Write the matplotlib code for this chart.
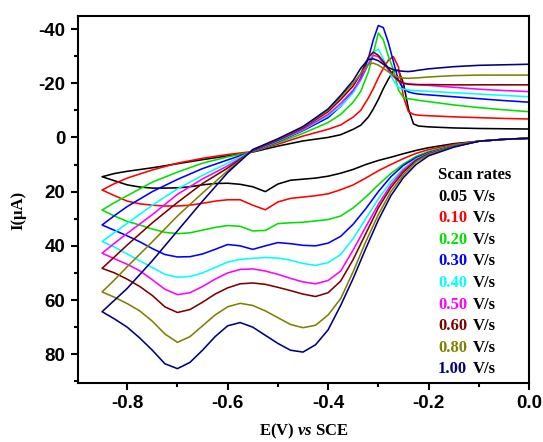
import numpy as np
import matplotlib
matplotlib.use('Agg')
import matplotlib.pyplot as plt
from matplotlib.ticker import MultipleLocator

plt.rcParams['axes.unicode_minus'] = False
plt.rcParams['mathtext.fontset'] = 'custom'
plt.rcParams['mathtext.it'] = 'Liberation Serif:italic:bold'
plt.rcParams['mathtext.rm'] = 'Liberation Serif:bold'

# potential grids (V vs SCE): reverse sweep 0 -> -0.85, then forward sweep back to 0
E_dn = [0.0, -0.05, -0.10, -0.15, -0.20, -0.225, -0.25, -0.275, -0.30, -0.325,
        -0.35, -0.375, -0.40, -0.425, -0.45, -0.475, -0.50, -0.525, -0.55, -0.575,
        -0.60, -0.625, -0.65, -0.675, -0.70, -0.725, -0.75, -0.775, -0.80, -0.825, -0.85]
E_up = [-0.85, -0.825, -0.80, -0.75, -0.70, -0.65, -0.60, -0.55, -0.50, -0.45,
        -0.40, -0.375, -0.35, -0.335, -0.32, -0.31, -0.30, -0.29, -0.28, -0.27,
        -0.26, -0.25, -0.24, -0.23, -0.22, -0.20, -0.15, -0.10, -0.05, 0.0]

rates = ['0.05', '0.10', '0.20', '0.30', '0.40', '0.50', '0.60', '0.80', '1.00']
colors = ['#000000', '#ff0000', '#00e000', '#0000ff', '#00ffff',
          '#ff00ff', '#800000', '#808000', '#000080']

# current (uA) on the lower branch, one list per scan rate
I_dn_005 = [0.3, 0.7, 1.4, 2.3, 3.8, 4.8, 6.0, 7.3, 8.5, 10.0, 11.8, 13.2, 14.3, 15.0, 15.4, 15.8,
            17.2, 20.0, 18.2, 17.3, 16.9, 17.0, 17.5, 18.2, 18.6, 18.7, 18.7, 18.3, 17.5, 16.0, 14.5]
I_dn_010 = [0.3, 0.7, 1.4, 2.6, 4.5, 5.9, 7.8, 10.0, 12.3, 15.0, 17.5, 19.3, 20.8, 21.5, 22.0, 22.5,
            23.8, 26.7, 25.0, 23.0, 23.0, 23.5, 24.3, 25.0, 25.3, 25.3, 25.0, 24.5, 23.5, 21.5, 19.4]
I_dn_020 = [0.3, 0.7, 1.4, 2.9, 5.2, 7.0, 9.8, 13.3, 17.5, 22.0, 26.0, 29.0, 30.3, 30.8, 31.3, 31.5,
            31.8, 34.3, 34.5, 32.8, 32.5, 33.2, 34.2, 35.2, 35.5, 35.0, 33.8, 32.3, 31.0, 29.0, 26.8]
I_dn_030 = [0.3, 0.7, 1.4, 3.1, 5.6, 7.5, 10.3, 14.5, 20.0, 26.3, 32.0, 36.5, 39.0, 40.0, 39.8, 39.2,
            38.8, 40.0, 41.3, 40.0, 39.5, 41.3, 43.0, 44.0, 44.1, 43.2, 41.0, 38.5, 36.3, 34.3, 32.3]
I_dn_040 = [0.3, 0.7, 1.4, 3.2, 5.9, 8.0, 11.5, 16.3, 22.7, 30.0, 37.3, 43.2, 46.2, 47.2, 46.5, 45.3,
            44.5, 44.3, 44.6, 45.0, 46.0, 48.0, 50.0, 51.3, 51.6, 50.5, 48.0, 45.5, 43.0, 40.5, 38.4]
I_dn_050 = [0.3, 0.7, 1.4, 3.3, 6.0, 8.3, 12.0, 17.5, 24.7, 33.0, 41.5, 49.3, 52.8, 54.0, 53.3, 52.0,
            50.5, 49.3, 48.5, 48.7, 50.0, 52.3, 55.0, 57.3, 58.0, 56.0, 52.5, 49.2, 46.8, 44.8, 42.7]
I_dn_060 = [0.3, 0.7, 1.4, 3.3, 6.1, 8.5, 12.8, 18.5, 26.0, 35.5, 45.0, 53.0, 57.3, 58.7, 57.8, 56.5,
            55.3, 54.2, 53.7, 54.0, 55.5, 57.8, 60.8, 63.5, 64.6, 62.5, 58.3, 55.0, 52.3, 50.0, 48.3]
I_dn_080 = [0.3, 0.7, 1.4, 3.4, 6.3, 9.0, 13.8, 20.0, 28.5, 38.5, 49.5, 59.5, 65.5, 69.3, 70.2, 69.0,
            66.5, 64.0, 62.0, 61.2, 62.5, 65.5, 69.5, 73.5, 75.6, 72.5, 67.8, 64.0, 61.3, 59.0, 57.0]
I_dn_100 = [0.3, 0.7, 1.4, 3.6, 6.8, 10.0, 14.8, 21.5, 30.5, 41.0, 52.0, 62.0, 71.0, 76.5, 79.2, 78.5,
            76.0, 73.0, 70.0, 68.3, 69.5, 73.5, 78.5, 83.0, 85.3, 83.5, 78.5, 74.0, 70.0, 67.0, 64.3]

# current (uA) on the upper branch
I_up_005 = [14.5, 13.3, 12.5, 11.2, 9.7, 8.2, 6.8, 5.4, 3.2, 1.3, 0.0, -1.0, -3.0, -4.5, -7.5,
            -10.5, -14.0, -18.0, -21.5, -24.5, -24.8, -20.0, -10.5, -5.0, -4.2, -3.9, -3.5, -3.3, -3.2, -3.1]
I_up_010 = [19.4, 17.0, 15.0, 12.0, 9.5, 7.7, 6.3, 5.2, 2.5, -0.5, -3.0, -4.6, -7.5, -10.0, -14.5,
            -18.0, -22.0, -25.5, -28.5, -29.8, -26.0, -15.0, -9.5, -8.5, -8.2, -8.0, -7.6, -7.3, -7.0, -6.8]
I_up_020 = [26.8, 24.0, 21.5, 16.5, 12.8, 9.5, 7.2, 5.3, 2.0, -1.5, -5.5, -8.5, -13.0, -17.0, -24.0,
            -31.0, -38.5, -36.0, -30.0, -25.0, -17.5, -14.7, -14.3, -14.0, -13.7, -13.2, -12.0, -11.0, -10.2, -9.5]
I_up_030 = [32.3, 28.8, 25.5, 20.0, 15.5, 11.5, 8.3, 5.2, 1.6, -2.5, -7.3, -11.5, -17.0, -22.0, -29.0,
            -36.0, -41.3, -40.5, -35.0, -28.0, -21.0, -18.0, -16.8, -16.3, -16.0, -15.7, -15.0, -14.3, -13.6, -13.0]
I_up_040 = [38.4, 35.0, 31.7, 25.0, 19.0, 14.0, 9.5, 5.0, 1.4, -2.8, -8.0, -11.5, -16.5, -21.0, -27.0,
            -31.5, -32.5, -29.0, -25.0, -21.0, -18.5, -17.8, -17.5, -17.3, -17.2, -17.0, -16.5, -16.0, -15.5, -15.0]
I_up_050 = [42.7, 39.0, 35.4, 28.5, 21.0, 15.3, 10.5, 5.0, 1.2, -3.0, -8.5, -12.5, -17.5, -21.5, -27.0,
            -30.3, -29.8, -27.5, -25.0, -22.5, -20.8, -20.0, -19.8, -19.6, -19.4, -19.2, -18.5, -17.8, -17.3, -16.9]
I_up_060 = [48.3, 44.0, 39.7, 31.5, 24.0, 17.0, 11.3, 4.8, 1.0, -3.5, -9.5, -14.0, -19.0, -23.5, -29.5,
            -31.5, -30.3, -28.0, -25.5, -23.0, -21.0, -20.0, -19.6, -19.5, -19.5, -19.5, -19.4, -19.4, -19.4, -19.4]
I_up_080 = [57.0, 52.5, 47.7, 38.5, 29.0, 20.5, 12.3, 4.5, 0.7, -3.8, -10.0, -15.0, -20.0, -23.5, -27.0,
            -27.4, -26.7, -25.5, -24.2, -23.0, -22.2, -21.9, -21.8, -21.9, -22.0, -22.3, -22.8, -23.0, -23.0, -23.0]
I_up_100 = [64.3, 60.0, 55.7, 45.5, 34.5, 23.5, 13.0, 4.5, 0.5, -4.0, -10.5, -15.5, -21.0, -25.5, -28.8,
            -29.0, -28.3, -27.0, -25.8, -25.0, -24.6, -24.4, -24.3, -24.5, -24.8, -25.3, -26.1, -26.6, -26.8, -27.0]

lower = [I_dn_005, I_dn_010, I_dn_020, I_dn_030, I_dn_040, I_dn_050, I_dn_060, I_dn_080, I_dn_100]
upper = [I_up_005, I_up_010, I_up_020, I_up_030, I_up_040, I_up_050, I_up_060, I_up_080, I_up_100]

fig = plt.figure(figsize=(5.43, 4.42), dpi=100)
ax = fig.add_axes([0.1436, 0.1335, 0.8306, 0.8303])

for dn, up, c in zip(lower, upper, colors):
    E = np.array(E_dn + E_up)
    I = np.array(dn + up)
    ax.plot(E, I, color=c, lw=1.15, solid_joinstyle='round')

ax.set_xlim(-0.898, 0.0)
ax.set_ylim(90.6, -44.8)
ax.xaxis.set_major_locator(MultipleLocator(0.2))
ax.xaxis.set_minor_locator(MultipleLocator(0.1))
ax.yaxis.set_major_locator(MultipleLocator(20))
ax.yaxis.set_minor_locator(MultipleLocator(10))
ax.xaxis.set_major_formatter(plt.FuncFormatter(lambda v, p: f'{v:.1f}'))
ax.yaxis.set_major_formatter(plt.FuncFormatter(lambda v, p: f'{v:.0f}'))

for s in ax.spines.values():
    s.set_linewidth(1.5)
ax.tick_params(which='both', direction='out', top=False, right=False, width=1.5)
ax.tick_params(which='major', length=5, pad=4)
ax.tick_params(which='minor', length=3)
for lab in ax.get_xticklabels() + ax.get_yticklabels():
    lab.set_fontfamily('Liberation Sans')
    lab.set_fontweight('bold')
    lab.set_fontsize(13.5)

ax.set_xlabel(r'E(V) $vs$ SCE', family='Liberation Serif', fontweight='bold', fontsize=12, labelpad=7)
ax.set_ylabel('I(\u03bcA)', family='Liberation Serif', fontweight='bold', fontsize=12)
ax.yaxis.set_label_coords(-0.115, 0.47)

# legend as coloured text
ax.text(0.798, 0.567, 'Scan rates', transform=ax.transAxes, family='Liberation Serif',
        fontweight='bold', fontsize=12, va='center', ha='left')
for k, (r, c) in enumerate(zip(rates, colors)):
    yy = 0.567 - (21.6 * (k + 1)) / 367
    ax.text(0.798, yy, r, color=c, transform=ax.transAxes, family='Liberation Serif',
            fontweight='bold', fontsize=12, va='center', ha='left')
    ax.text(0.876, yy, 'V/s', color='black', transform=ax.transAxes, family='Liberation Serif',
            fontweight='bold', fontsize=12, va='center', ha='left')

fig.savefig('out.png', dpi=100)
